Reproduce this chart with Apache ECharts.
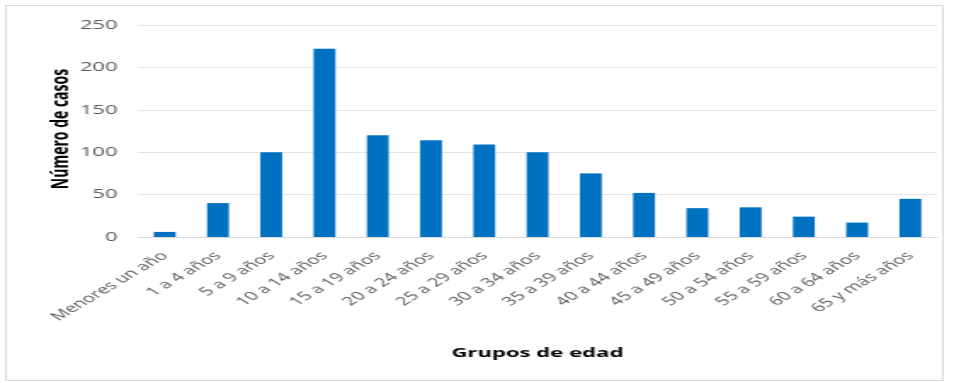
<!DOCTYPE html>
<html>
<head>
<meta charset="utf-8">
<script src="https://cdn.jsdelivr.net/npm/echarts@6/dist/echarts.min.js"></script>
<style>
  html, body { margin: 0; padding: 0; background: #fff; overflow: hidden; }
  #wrap { width: 954px; height: 383px; overflow: hidden; }
  /* the chart is laid out narrow and widened to the full page width */
  #chart { width: 561px; height: 383px; transform: scaleX(1.7005); transform-origin: 0 0; }
</style>
</head>
<body>
<div id="wrap"><div id="chart"></div></div>
<script>
// Age groups and reported case counts
const categories = [
  'Menores un año', '1 a 4 años', '5 a 9 años', '10 a 14 años', '15 a 19 años',
  '20 a 24 años', '25 a 29 años', '30 a 34 años', '35 a 39 años', '40 a 44 años',
  '45 a 49 años', '50 a 54 años', '55 a 59 años', '60 a 64 años', '65 y más años'
];
const casos = [6, 40, 100, 222, 120, 114, 109, 100, 75, 52, 34, 35, 24, 17, 45];

const yTitle = 'Número de casos';
const xTitle = 'Grupos de edad';

const chart = echarts.init(document.getElementById('chart'));
chart.setOption({
  animation: false,
  graphic: [
    {
      type: 'rect',
      shape: { x: 3.5, y: 5.5, width: 551, height: 375 },
      style: { fill: 'none', stroke: '#d9d9d9', lineWidth: 1 }
    },
    {
      type: 'text',
      x: 316,
      y: 353,
      style: {
        text: xTitle,
        font: 'bold 13px "Open Sans", sans-serif',
        fill: '#000',
        align: 'center',
        verticalAlign: 'middle'
      }
    },
    {
      type: 'text',
      x: 36.5,
      y: 129,
      rotation: Math.PI / 2,
      style: {
        text: yTitle,
        font: 'bold 14px "Open Sans", sans-serif',
        fill: '#000',
        align: 'center',
        verticalAlign: 'middle'
      }
    }
  ],
  grid: { left: 81.2, right: 10, top: 25, bottom: 146 },
  xAxis: {
    type: 'category',
    data: categories,
    axisLine: { lineStyle: { color: '#d9d9d9' } },
    axisTick: { show: false },
    axisLabel: {
      interval: 0,
      rotate: 45,
      color: '#595959',
      fontSize: 12,
      fontFamily: '"Open Sans", sans-serif',
      margin: 17
    }
  },
  yAxis: {
    type: 'value',
    min: 0,
    max: 250,
    interval: 50,
    axisLine: { show: false },
    axisTick: { show: false },
    splitLine: { lineStyle: { color: '#e3e3e3' } },
    axisLabel: {
      color: '#595959',
      fontSize: 13,
      fontFamily: '"Open Sans", sans-serif',
      margin: 12
    }
  },
  series: [{
    type: 'bar',
    data: casos,
    barWidth: '41%',
    itemStyle: { color: '#0070C0' }
  }]
});
</script>
</body>
</html>
